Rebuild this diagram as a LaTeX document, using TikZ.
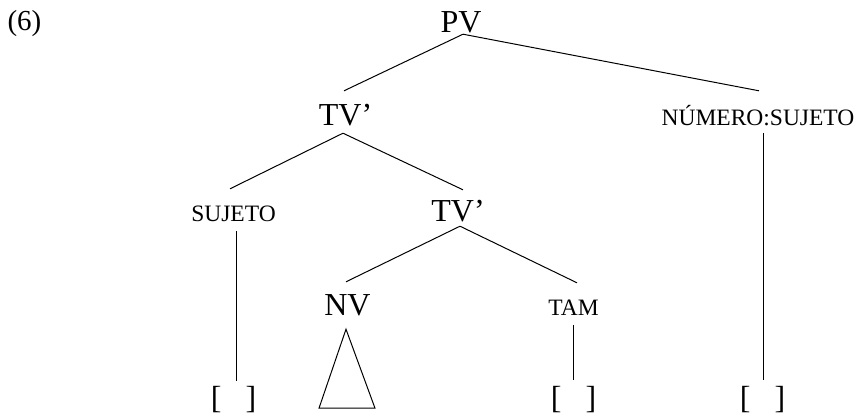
\documentclass[tikz,border=0pt]{standalone}
\usepackage{fontspec}
\setmainfont{Liberation Serif}
\begin{document}
\begin{tikzpicture}[x=1pt,y=-1pt,
  lbl/.style={inner sep=0pt, text height=22pt, text depth=0pt, anchor=base, font=\fontsize{32}{32}\selectfont},
  sclbl/.style={lbl, font=\fontsize{23.5}{23.5}\selectfont},
  brk/.style={lbl, font=\fontsize{32}{32}\selectfont},
  edge/.style={line width=1pt, black}]
\useasboundingbox (0,0) rectangle (864,416);
\node[lbl, font=\fontsize{29}{29}\selectfont] (ex) at (24.5,30) {(6)};
\node[lbl] (PV) at (461,32) {PV};
\node[lbl] (TV1) at (345.5,125) {TV’};
\node[sclbl] (NUM) at (758,125) {NÚMERO:SUJETO};
\node[sclbl] (SUJ) at (233.5,221) {SUJETO};
\node[lbl] (TV2) at (458,221) {TV’};
\node[lbl] (NV) at (347.5,315) {NV};
\node[sclbl] (TAM) at (573.5,315) {TAM};
\node[brk] (B1) at (233.5,408) {[\hspace{24pt}]};
\node[brk] (B2) at (573.5,408) {[\hspace{24pt}]};
\node[brk] (B3) at (762.5,408) {[\hspace{24pt}]};
\draw[edge] ([xshift=2pt,yshift=-2pt]PV.south) -- ([xshift=-1.5pt,yshift=12pt]TV1.north);
\draw[edge] ([xshift=2pt,yshift=-2pt]PV.south) -- ([xshift=1pt,yshift=12pt]NUM.north);
\draw[edge] ([xshift=-2.5pt,yshift=-8pt]TV1.south) -- ([xshift=-3.5pt,yshift=10pt]SUJ.north);
\draw[edge] ([xshift=-2.5pt,yshift=-8pt]TV1.south) -- ([xshift=5pt,yshift=9pt]TV2.north);
\draw[edge] ([xshift=2pt,yshift=-5pt]TV2.south) -- ([xshift=-1.5pt,yshift=11pt]NV.north);
\draw[edge] ([xshift=2pt,yshift=-5pt]TV2.south) -- ([xshift=3.5pt,yshift=10pt]TAM.north);
\draw[edge] ([xshift=5pt,yshift=-8pt]NUM.south) -- ([xshift=0.5pt,yshift=6pt]B3.north);
\draw[edge] ([xshift=2.5pt,yshift=-10pt]SUJ.south) -- ([xshift=2.5pt,yshift=5pt]B1.north);
\draw[edge] ([xshift=-0.5pt,yshift=-10pt]TAM.south) -- ([xshift=-0.5pt,yshift=6pt]B2.north);
\draw[edge, line join=miter] ([xshift=-1.5pt,yshift=-14pt]NV.south) -- ++(-27,79) -- ++(56,0) -- cycle;
\end{tikzpicture}
\end{document}
